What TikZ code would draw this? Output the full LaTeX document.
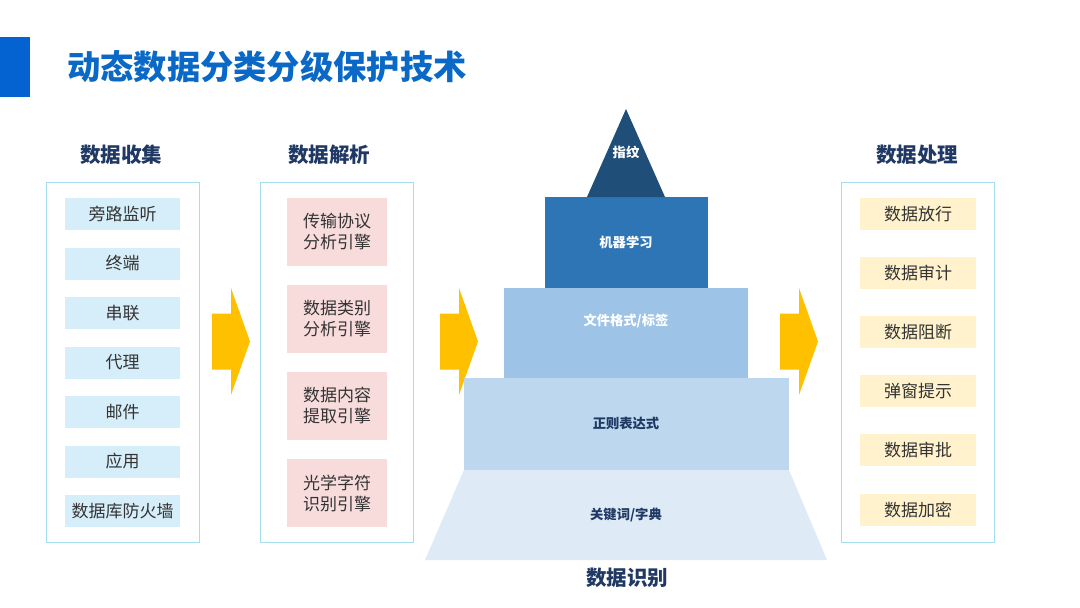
\documentclass[tikz,border=0pt]{standalone}
\usepackage{fontspec}
\setmainfont{Noto Sans CJK SC}
\definecolor{barc}{HTML}{0563D1}
\definecolor{titlec}{HTML}{0A68C6}
\definecolor{navy}{HTML}{1F3864}
\definecolor{panelc}{HTML}{A8DCEF}
\definecolor{fillA}{HTML}{D6EEF9}
\definecolor{fillB}{HTML}{F8DCDC}
\definecolor{fillC}{HTML}{FFF2CC}
\definecolor{txt}{HTML}{333333}
\definecolor{arrowc}{HTML}{FFC000}
\definecolor{pyrA}{HTML}{1F4E79}
\definecolor{pyrB}{HTML}{2E75B6}
\definecolor{pyrC}{HTML}{9DC3E6}
\definecolor{pyrD}{HTML}{BDD7EE}
\definecolor{pyrE}{HTML}{DEEBF7}
\begin{document}
\begin{tikzpicture}[x=1pt,y=-1pt,
  hd/.style={font=\fontsize{20.5}{24}\selectfont\bfseries, text=navy, inner sep=0pt},
  panel/.style={draw=panelc, line width=0.9pt, fill=white, inner sep=0pt, minimum width=153pt, minimum height=360pt},
  itemA/.style={fill=fillA, minimum width=115pt, minimum height=32pt, inner sep=0pt, font=\fontsize{17}{20}\selectfont, text=txt},
  itemB/.style={fill=fillB, minimum width=100pt, minimum height=68pt, inner sep=0pt, align=center, font=\fontsize{17}{21}\selectfont, text=txt},
  itemC/.style={fill=fillC, minimum width=116pt, minimum height=32pt, inner sep=0pt, font=\fontsize{17}{20}\selectfont, text=txt},
  plabel/.style={font=\fontsize{13.3}{15}\selectfont\bfseries, inner sep=0pt},
  bigarrow/.pic={\fill[arrowc] (-19,-28) -- (0,-28) -- (0,-53.5) -- (19,0) -- (0,53.5) -- (0,28) -- (-19,28) -- cycle;}
]
\useasboundingbox[fill=white] (0,0) rectangle (1080,608);
% title
\fill[barc] (0,37) rectangle (30,97);
\node[anchor=west, inner sep=0pt, text=titlec, font=\fontsize{33.3}{38}\selectfont\bfseries] (title) at (67,67) {动态数据分类分级保护技术};
% headings
\node[hd] (h1) at (121,155) {数据收集};
\node[hd] (h2) at (329,155) {数据解析};
\node[hd] (h4) at (917,155) {数据处理};
\node[hd] (h3) at (627,578) {数据识别};
% panels
\node[panel] (p1) at (122.5,362) {};
\node[panel] (p2) at (336.5,362) {};
\node[panel] (p4) at (918,362) {};
% left items
\node[itemA] (a1) at (122.5,214) {旁路监听};
\node[itemA] (a2) at (122.5,263.5) {终端};
\node[itemA] (a3) at (122.5,313) {串联};
\node[itemA] (a4) at (122.5,362.5) {代理};
\node[itemA] (a5) at (122.5,412) {邮件};
\node[itemA] (a6) at (122.5,461.5) {应用};
\node[itemA] (a7) at (122.5,511) {数据库防火墙};
% middle items
\node[itemB] (b1) at (337,232) {传输协议\\分析引擎};
\node[itemB] (b2) at (337,318.5) {数据类别\\分析引擎};
\node[itemB] (b3) at (337,405.5) {数据内容\\提取引擎};
\node[itemB] (b4) at (337,493) {光学字符\\识别引擎};
% right items
\node[itemC] (c1) at (918,214) {数据放行};
\node[itemC] (c2) at (918,273) {数据审计};
\node[itemC] (c3) at (918,332) {数据阻断};
\node[itemC] (c4) at (918,391) {弹窗提示};
\node[itemC] (c5) at (918,450) {数据审批};
\node[itemC] (c6) at (918,509.5) {数据加密};
% arrows
\pic at (231,341.5) {bigarrow};
\pic at (459,341.5) {bigarrow};
\pic at (799,341.5) {bigarrow};
% pyramid
\fill[pyrE] (464,470) -- (789,470) -- (827,560) -- (425,560) -- cycle;
\fill[pyrD] (464,378) rectangle (789,470);
\fill[pyrC] (504,288) rectangle (748,378);
\fill[pyrB] (545,197) rectangle (708,288);
\fill[pyrA] (626,109) -- (665,197) -- (587,197) -- cycle;
\node[plabel, text=white] (l1) at (626,152) {指纹};
\node[plabel, text=white] (l2) at (626,242) {机器学习};
\node[plabel, text=white] (l3) at (626,321) {文件格式/标签};
\node[plabel, text=navy] (l4) at (626,423) {正则表达式};
\node[plabel, text=navy] (l5) at (626,515) {关键词/字典};
\end{tikzpicture}
\end{document}
